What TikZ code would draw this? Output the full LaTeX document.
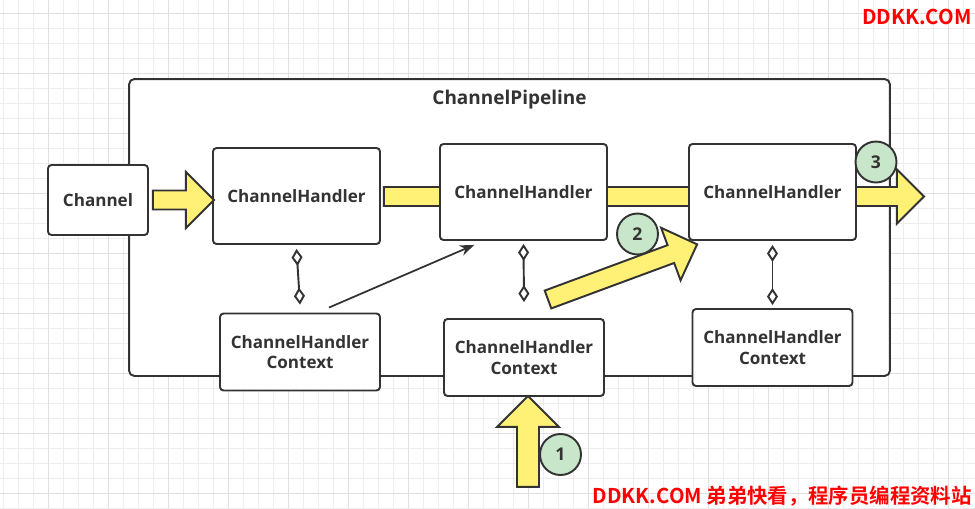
\documentclass[tikz,border=0pt]{standalone}
\usepackage{fontspec}
\setmainfont{Open Sans}
\newfontfamily\cjk{Noto Sans CJK SC}[BoldFont={Noto Sans CJK SC Bold}]
\usetikzlibrary{arrows.meta, calc, positioning}

\definecolor{linec}{HTML}{333333}
\definecolor{flowy}{HTML}{FFF176}
\definecolor{stepg}{HTML}{C8E6C9}
\definecolor{markred}{HTML}{FF0000}

% yellow block arrow: tail, angle, length, half shaft, half head
\newcommand{\flowarrow}[5]{%
  \begin{scope}[shift={(#1)}, rotate=#2]
    \draw[flow] (0,#4) -- (#3-#5,#4) -- (#3-#5,#5) -- (#3,0)
      -- (#3-#5,-#5) -- (#3-#5,-#4) -- (0,-#4) -- cycle;
  \end{scope}}

\begin{document}
\begin{tikzpicture}[x=0.02cm, y=0.02cm,
  box/.style={draw=linec, fill=white, line width=1.1pt, rounded corners=2pt,
    align=center, text=linec, font=\bfseries\fontsize{9.7}{11.8}\selectfont},
  handler/.style={box, minimum width=3.34cm, minimum height=1.92cm},
  ctx/.style={box, minimum width=3.2cm, minimum height=1.54cm},
  flow/.style={draw=linec, fill=flowy, line width=1.1pt, line join=miter},
  link/.style={draw=linec, line width=1.1pt,
    {Diamond[open, length=0.34cm, width=0.22cm]}-{Diamond[open, length=0.34cm, width=0.22cm]}},
  thin/.style={draw=linec, line width=1pt, -{Stealth[length=0.28cm, width=0.22cm]}},
  stepmark/.style={circle, draw=linec, fill=stepg, line width=1.1pt,
    minimum size=0.82cm, inner sep=0pt, text=linec, font=\bfseries\fontsize{10}{12}\selectfont},
  wmark/.style={text=markred, font=\cjk\bfseries\fontsize{11.6}{14}\selectfont, inner sep=0pt},
  minorgrid/.style={draw=black!7, line width=0.5pt},
  majorgrid/.style={draw=black!12, line width=0.5pt}]

  \useasboundingbox (0,0) rectangle (975,-508);
  \fill[white] (0,0) rectangle (975,-508);
  % background grid
  \foreach \gx in {3,18,...,963} \draw[minorgrid] (\gx,0) -- (\gx,-508);
  \foreach \gy in {13,28,...,508} \draw[minorgrid] (0,-\gy) -- (975,-\gy);
  \foreach \gx in {48,108,...,948} \draw[majorgrid] (\gx,0) -- (\gx,-508);
  \foreach \gy in {13,73,...,493} \draw[majorgrid] (0,-\gy) -- (975,-\gy);

  % pipeline frame
  \node[draw=linec, fill=white, line width=1.1pt, rounded corners=3pt,
    minimum width=15.22cm, minimum height=5.94cm] (pipe) at (509.5,-227.5) {};
  \node[text=linec, font=\bfseries\fontsize{10.8}{12}\selectfont] (ptitle)
    at ($(pipe.north)+(0,-22)$) {ChannelPipeline};

  \node[handler] (h1) at (296.5,-196) {ChannelHandler};
  \coordinate (b0) at ($(h1.east)+(3,-0.5)$);
  \flowarrow{b0}{0}{540}{9.5}{27}
  \node[handler] (h2) at (523.5,-192) {ChannelHandler};
  \node[handler] (h3) at (772.5,-192) {ChannelHandler};

  \node[box, minimum width=2cm, minimum height=1.4cm] (chan) at (98,-200) {Channel};
  \coordinate (a0) at ($(chan.east)+(4,0)$);
  \flowarrow{a0}{0}{61}{9.5}{28}

  \node[ctx] (c1) at (300,-352) {ChannelHandler\\Context};
  \node[ctx] (c2) at (524,-357.5) {ChannelHandler\\Context};
  \node[ctx] (c3) at (772.5,-347.5) {ChannelHandler\\Context};

  % handler <-> context
  \draw[link] ($(h1.south)+(0,-4)$) -- ($(c1.north)+(0,8)$);
  \draw[link] ($(h2.south)+(0,-3)$) -- ($(c2.north)+(0,16)$);
  \draw[link] ($(h3.south)+(0,-4)$) -- ($(c3.north)+(0,3)$);

  \draw[thin] ($(c1.north)+(29,5)$) -- ($(h2.south west)+(35,-4)$);

  % flow steps
  \coordinate (d0) at ($(c2.south)+(4,-90)$);
  \flowarrow{d0}{90}{91}{11}{31}
  \coordinate (e0) at (548,-299.5);
  \flowarrow{e0}{20.3}{159}{9.5}{28}

  \node[stepmark] (s1) at (560.5,-454.5) {1};
  \node[stepmark] (s2) at (637.5,-234) {2};
  \node[stepmark] (s3) at (876,-162) {3};

  \node[wmark, anchor=east] (wm1) at (972,-17) {DDKK.COM};
  \node[wmark, anchor=east] (wm2) at (972,-496) {DDKK.COM 弟弟快看，程序员编程资料站};
\end{tikzpicture}
\end{document}
